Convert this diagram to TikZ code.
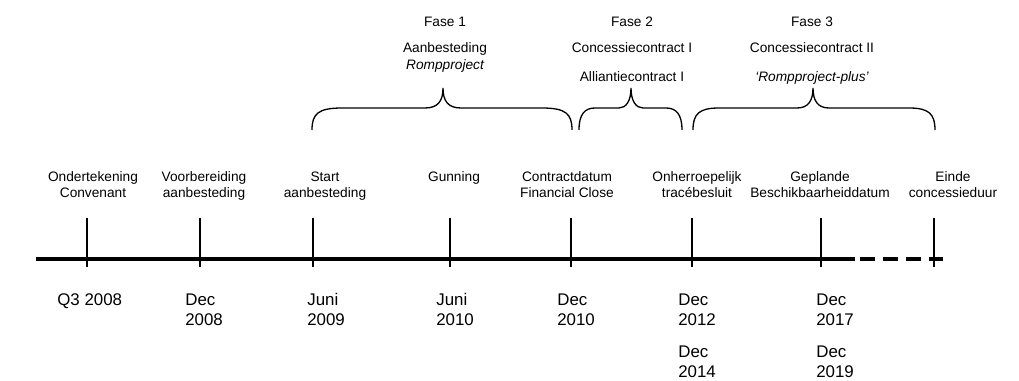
\documentclass[tikz,border=0pt]{standalone}
\usepackage{fontspec}
\setmainfont{Liberation Sans}
\begin{document}
\begin{tikzpicture}[x=0.02cm,y=-0.02cm,
  lbl/.style={inner sep=0pt,anchor=base,font=\fontsize{7.8}{9.4}\selectfont},
  lbll/.style={inner sep=0pt,anchor=base west,font=\fontsize{9.6}{11.5}\selectfont},
  tick/.style={line width=0.6pt},
  axis/.style={line width=2.3pt},
  wbr/.style={line width=0.75pt}]
\useasboundingbox (0,0) rectangle (1019,381);
% timeline
\coordinate (a0) at (36,259);
\coordinate (a1) at (855,259);
\coordinate (d0) at (860,259);
\coordinate (d1) at (944,259);
\draw[axis] (a0) -- (a1);
\draw[axis,dash pattern=on 8.5pt off 4.5pt] (d0) -- (d1);
% ticks
\foreach \x [count=\i] in {87,200,313,450,571,692,821,934}{
  \coordinate (t\i a) at (\x,218);
  \coordinate (t\i b) at (\x,267);
  \draw[tick] (t\i a) -- (t\i b);
}
% top labels
\node[lbl] (u1a) at (93,182) {Ondertekening};
\node[lbl] (u1b) at (93,198) {Convenant};
\node[lbl] (u2a) at (204,182) {Voorbereiding};
\node[lbl] (u2b) at (204,198) {aanbesteding};
\node[lbl] (u3a) at (325,182) {Start};
\node[lbl] (u3b) at (325,198) {aanbesteding};
\node[lbl] (u4a) at (454,182) {Gunning};
\node[lbl] (u5a) at (567,182) {Contractdatum};
\node[lbl] (u5b) at (567,198) {Financial Close};
\node[lbl] (u6a) at (697,182) {Onherroepelijk};
\node[lbl] (u6b) at (697,198) {tracébesluit};
\node[lbl] (u7a) at (820,182) {Geplande};
\node[lbl] (u7b) at (820,198) {Beschikbaarheiddatum};
\node[lbl] (u8a) at (953,182) {Einde};
\node[lbl] (u8b) at (953,198) {concessieduur};
% bottom labels
\node[lbll] (b1a) at (57,306) {Q3 2008};
\node[lbll] (b2a) at (185,306) {Dec};
\node[lbll] (b2b) at (185,326) {2008};
\node[lbll] (b3a) at (307,306) {Juni};
\node[lbll] (b3b) at (307,326) {2009};
\node[lbll] (b4a) at (436,306) {Juni};
\node[lbll] (b4b) at (436,326) {2010};
\node[lbll] (b5a) at (557,306) {Dec};
\node[lbll] (b5b) at (557,326) {2010};
\node[lbll] (b6a) at (678,306) {Dec};
\node[lbll] (b6b) at (678,326) {2012};
\node[lbll] (b6c) at (678,358) {Dec};
\node[lbll] (b6d) at (678,378) {2014};
\node[lbll] (b7a) at (816,306) {Dec};
\node[lbll] (b7b) at (816,326) {2017};
\node[lbll] (b7c) at (816,358) {Dec};
\node[lbll] (b7d) at (816,378) {2019};
% phase labels
\node[lbl] (f1) at (445,27) {Fase 1};
\node[lbl] (f1a) at (445,53) {Aanbesteding};
\node[lbl] (f1b) at (445,70) {\itshape Rompproject};
\node[lbl] (f2) at (632,27) {Fase 2};
\node[lbl] (f2a) at (632,53) {Concessiecontract I};
\node[lbl] (f2b) at (632,82) {Alliantiecontract I};
\node[lbl] (f3) at (812,27) {Fase 3};
\node[lbl] (f3a) at (812,53) {Concessiecontract II};
\node[lbl] (f3b) at (812,82) {\itshape ‘Rompproject-plus’};
% braces
\newcommand\wordbrace[5]{%
  \draw[wbr] (#1,130) .. controls (#1,114) and ({#1+6},108) .. ({#1+#4},108)
    -- ({#2-#5},108) .. controls ({#2-5},108) and (#2,101) .. (#2,88)
    .. controls (#2,101) and ({#2+5},108) .. ({#2+#5},108)
    -- ({#3-#4},108) .. controls ({#3-6},108) and (#3,114) .. (#3,130);}
\wordbrace{312}{443}{572}{30}{18}
\wordbrace{579}{631}{682}{16}{12}
\wordbrace{693}{813}{935}{26}{16}
\end{tikzpicture}
\end{document}
